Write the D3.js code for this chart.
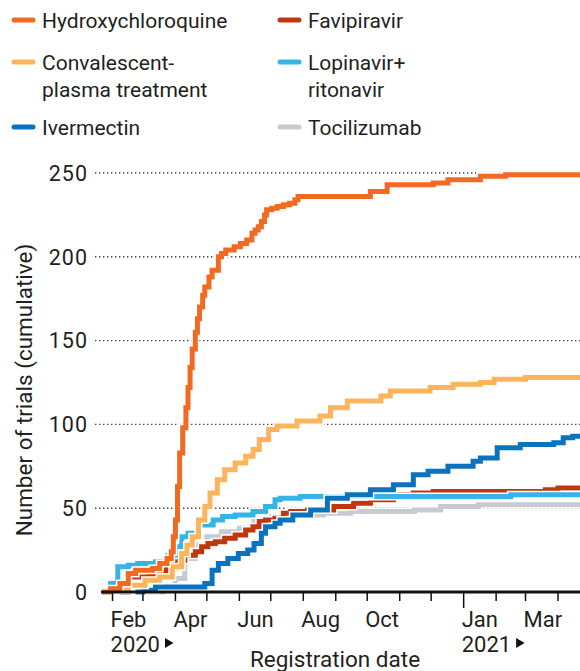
<!DOCTYPE html>
<html>
<head>
<meta charset="utf-8">
<script src="https://cdn.jsdelivr.net/npm/d3@7"></script>
<style>
  body { margin: 0; background: #fff; }
  svg { display: block; font-family: Roboto, "Noto Sans", sans-serif; }
</style>
</head>
<body>
<svg width="580" height="671"></svg>
<script>
const width = 580;
const height = 671;

// cumulative trial counts: [registration date, count]
const hydroxychloroquine = [
  ["2020-01-22", 0], ["2020-01-30", 2], ["2020-02-08", 5], ["2020-02-16", 11], ["2020-02-23", 13],
  ["2020-03-10", 14], ["2020-03-17", 17], ["2020-03-24", 20], ["2020-03-28", 24], ["2020-03-30", 33],
  ["2020-04-01", 43], ["2020-04-03", 63], ["2020-04-05", 83], ["2020-04-08", 98], ["2020-04-11", 110],
  ["2020-04-13", 122], ["2020-04-15", 134], ["2020-04-17", 145], ["2020-04-20", 155], ["2020-04-22", 163],
  ["2020-04-24", 170], ["2020-04-27", 177], ["2020-04-29", 182], ["2020-05-03", 188], ["2020-05-06", 192],
  ["2020-05-12", 200], ["2020-05-15", 202], ["2020-05-19", 204], ["2020-05-27", 206], ["2020-06-02", 208],
  ["2020-06-08", 210], ["2020-06-13", 214], ["2020-06-16", 216], ["2020-06-19", 218], ["2020-06-22", 221],
  ["2020-06-25", 225], ["2020-06-27", 228], ["2020-07-02", 229], ["2020-07-07", 230], ["2020-07-13", 231],
  ["2020-07-19", 232], ["2020-07-24", 234], ["2020-07-27", 236], ["2020-10-04", 239], ["2020-10-20", 243],
  ["2020-12-03", 244], ["2020-12-17", 246], ["2021-01-17", 248], ["2021-02-10", 249], ["2021-04-22", 249]
];
const favipiravir = [
  ["2020-02-08", 0], ["2020-02-16", 9], ["2020-03-06", 10], ["2020-03-17", 12], ["2020-03-23", 14],
  ["2020-04-01", 19], ["2020-04-10", 22], ["2020-04-20", 24], ["2020-04-26", 27], ["2020-05-02", 29],
  ["2020-05-09", 30], ["2020-05-18", 32], ["2020-05-28", 34], ["2020-06-07", 37], ["2020-06-14", 39],
  ["2020-06-20", 42], ["2020-06-26", 43], ["2020-07-05", 44], ["2020-07-13", 47], ["2020-07-20", 48],
  ["2020-08-05", 49], ["2020-08-30", 51], ["2020-09-18", 53], ["2020-10-04", 55], ["2020-10-26", 58],
  ["2020-11-14", 59], ["2020-12-03", 60], ["2021-03-20", 61], ["2021-04-01", 62], ["2021-04-22", 62]
];
const plasma = [
  ["2020-02-08", 1], ["2020-02-16", 4], ["2020-03-03", 7], ["2020-03-17", 9], ["2020-03-29", 15],
  ["2020-04-07", 23], ["2020-04-12", 28], ["2020-04-17", 33], ["2020-04-23", 43], ["2020-04-29", 51],
  ["2020-05-04", 59], ["2020-05-11", 67], ["2020-05-18", 73], ["2020-05-28", 77], ["2020-06-07", 81],
  ["2020-06-14", 85], ["2020-06-20", 91], ["2020-06-29", 97], ["2020-07-07", 99], ["2020-07-26", 102],
  ["2020-08-17", 105], ["2020-08-27", 110], ["2020-09-12", 114], ["2020-10-14", 117], ["2020-10-23", 120],
  ["2020-11-30", 122], ["2020-12-22", 124], ["2021-01-17", 125], ["2021-01-30", 127], ["2021-03-01", 128],
  ["2021-04-22", 128]
];
const lopinavir = [
  ["2020-01-26", 0], ["2020-01-30", 5], ["2020-02-06", 15], ["2020-02-16", 16], ["2020-02-25", 17],
  ["2020-03-13", 18], ["2020-03-25", 22], ["2020-04-01", 27], ["2020-04-07", 33], ["2020-04-13", 35],
  ["2020-04-24", 40], ["2020-05-07", 43], ["2020-05-16", 45], ["2020-05-28", 46], ["2020-06-14", 48],
  ["2020-06-26", 51], ["2020-07-05", 55], ["2020-07-10", 56], ["2020-07-29", 57], ["2021-02-15", 58],
  ["2021-04-22", 58]
];
const ivermectin = [
  ["2020-02-23", 0], ["2020-03-01", 1], ["2020-03-13", 3], ["2020-04-29", 5], ["2020-05-06", 13],
  ["2020-05-12", 17], ["2020-05-21", 20], ["2020-05-31", 23], ["2020-06-09", 25], ["2020-06-15", 29],
  ["2020-06-22", 35], ["2020-06-26", 39], ["2020-07-05", 41], ["2020-07-10", 43], ["2020-07-22", 46],
  ["2020-08-08", 49], ["2020-08-24", 56], ["2020-09-12", 58], ["2020-10-04", 61], ["2020-10-26", 64],
  ["2020-11-14", 70], ["2020-11-28", 72], ["2020-12-17", 75], ["2021-01-10", 78], ["2021-01-17", 80],
  ["2021-02-02", 86], ["2021-02-24", 88], ["2021-03-28", 89], ["2021-04-06", 92], ["2021-04-15", 93],
  ["2021-04-22", 93]
];
const tocilizumab = [
  ["2020-03-05", 0], ["2020-03-20", 3], ["2020-04-01", 8], ["2020-04-10", 20], ["2020-04-20", 28],
  ["2020-05-01", 33], ["2020-05-15", 36], ["2020-06-01", 38], ["2020-06-15", 42], ["2020-07-01", 45],
  ["2020-08-01", 46], ["2020-08-20", 47], ["2020-09-15", 48], ["2020-11-15", 49], ["2020-12-10", 51],
  ["2021-01-15", 52], ["2021-04-22", 52]
];

// drawing order (bottom to top) and legend slots
const series = [
  { name: "Tocilizumab", data: tocilizumab, color: "#c6cad3", col: 1, row: 2 },
  { name: "Favipiravir", data: favipiravir, color: "#c0360e", col: 1, row: 0 },
  { name: "Lopinavir+\nritonavir", data: lopinavir, color: "#36b4e6", col: 1, row: 1 },
  { name: "Ivermectin", data: ivermectin, color: "#0b72bd", col: 0, row: 2 },
  { name: "Convalescent-\nplasma treatment", data: plasma, color: "#fdb45c", col: 0, row: 1 },
  { name: "Hydroxychloroquine", data: hydroxychloroquine, color: "#f26a21", col: 0, row: 0 }
];

const yTicks = [50, 100, 150, 200, 250];
const monthLabels = [
  ["2020-02-01", "Feb"], ["2020-04-01", "Apr"], ["2020-06-01", "Jun"], ["2020-08-01", "Aug"],
  ["2020-10-01", "Oct"], ["2021-01-01", "Jan"], ["2021-03-01", "Mar"]
];
const yearLabels = [["2020-02-01", "2020"], ["2021-01-01", "2021"]];

const parse = d3.timeParse("%Y-%m-%d");
const ink = "#231f20";

const x = d3.scaleTime()
  .domain([parse("2020-01-21"), parse("2021-04-22")])
  .range([101, 580]);

const y = d3.scaleLinear()
  .domain([0, 250])
  .range([592, 173]);

const svg = d3.select("svg")
  .attr("viewBox", [0, 0, width, height]);

// dotted gridlines
svg.append("g")
  .selectAll("line")
  .data(yTicks)
  .join("line")
  .attr("x1", 95)
  .attr("x2", width)
  .attr("y1", d => y(d))
  .attr("y2", d => y(d))
  .attr("stroke", "#444")
  .attr("stroke-width", 1.4)
  .attr("stroke-dasharray", "1.4 2.6");

// y labels
svg.append("g")
  .selectAll("text")
  .data([0, ...yTicks])
  .join("text")
  .attr("x", 88)
  .attr("y", d => y(d))
  .attr("dy", "0.36em")
  .attr("text-anchor", "end")
  .attr("font-size", 21.5)
  .attr("letter-spacing", 1)
  .attr("fill", ink)
  .text(d => d);

svg.append("text")
  .attr("transform", "translate(32,390) rotate(-90)")
  .attr("text-anchor", "middle")
  .attr("font-size", 22.5)
  .attr("fill", ink)
  .text("Number of trials (cumulative)");

// lines, each with a white halo so upper lines cut through lower ones
const line = d3.line()
  .x(d => x(parse(d[0])))
  .y(d => y(d[1]))
  .curve(d3.curveStepAfter);

const lines = svg.append("g").attr("fill", "none");
series.forEach(s => {
  lines.append("path")
    .attr("d", line(s.data))
    .attr("stroke", "#fff")
    .attr("stroke-width", 8);
  lines.append("path")
    .attr("d", line(s.data))
    .attr("stroke", s.color)
    .attr("stroke-width", 5);
});

// x axis
const months = d3.timeMonth.range(parse("2020-02-01"), parse("2021-04-22"));
const xAxis = svg.append("g");
xAxis.append("line")
  .attr("x1", 101)
  .attr("x2", width)
  .attr("y1", 592)
  .attr("y2", 592)
  .attr("stroke", "#111")
  .attr("stroke-width", 3);
xAxis.selectAll(".tick")
  .data(months)
  .join("line")
  .attr("class", "tick")
  .attr("x1", d => x(d))
  .attr("x2", d => x(d))
  .attr("y1", 592)
  .attr("y2", d => d.getMonth() === 0 ? 608 : 601)
  .attr("stroke", "#111")
  .attr("stroke-width", 1.5);

xAxis.selectAll(".month")
  .data(monthLabels)
  .join("text")
  .attr("class", "month")
  .attr("x", d => x(parse(d[0])) - 2)
  .attr("y", 627)
  .attr("font-size", 22)
  .attr("fill", ink)
  .text(d => d[1]);

const years = xAxis.selectAll(".year")
  .data(yearLabels)
  .join("g")
  .attr("class", "year")
  .attr("transform", d => `translate(${x(parse(d[0])) - 2},652)`);
years.append("text")
  .attr("font-size", 22)
  .attr("fill", ink)
  .text(d => d[1]);
years.append("path")
  .attr("d", function () {
    const w = this.parentNode.querySelector("text").getComputedTextLength() + 5;
    return `M${w},-14 L${w + 8.5},-9 L${w},-4 Z`;
  })
  .attr("fill", "#111");

svg.append("text")
  .attr("x", 335)
  .attr("y", 667)
  .attr("text-anchor", "middle")
  .attr("font-size", 22.5)
  .attr("fill", ink)
  .text("Registration date");

// legend
const colX = [12, 278];
const rowY = [20, 62, 127];
const legend = svg.append("g")
  .selectAll("g")
  .data(series)
  .join("g")
  .attr("transform", d => `translate(${colX[d.col]},${rowY[d.row]})`);
legend.append("line")
  .attr("x1", 2)
  .attr("x2", 21)
  .attr("stroke", d => d.color)
  .attr("stroke-width", 5)
  .attr("stroke-linecap", "round");
legend.append("text")
  .attr("x", 30)
  .attr("font-size", 21)
  .attr("fill", ink)
  .selectAll("tspan")
  .data(d => d.name.split("\n"))
  .join("tspan")
  .attr("x", 30)
  .attr("y", (d, i) => 7.5 + i * 27)
  .text(d => d);
</script>
</body>
</html>
